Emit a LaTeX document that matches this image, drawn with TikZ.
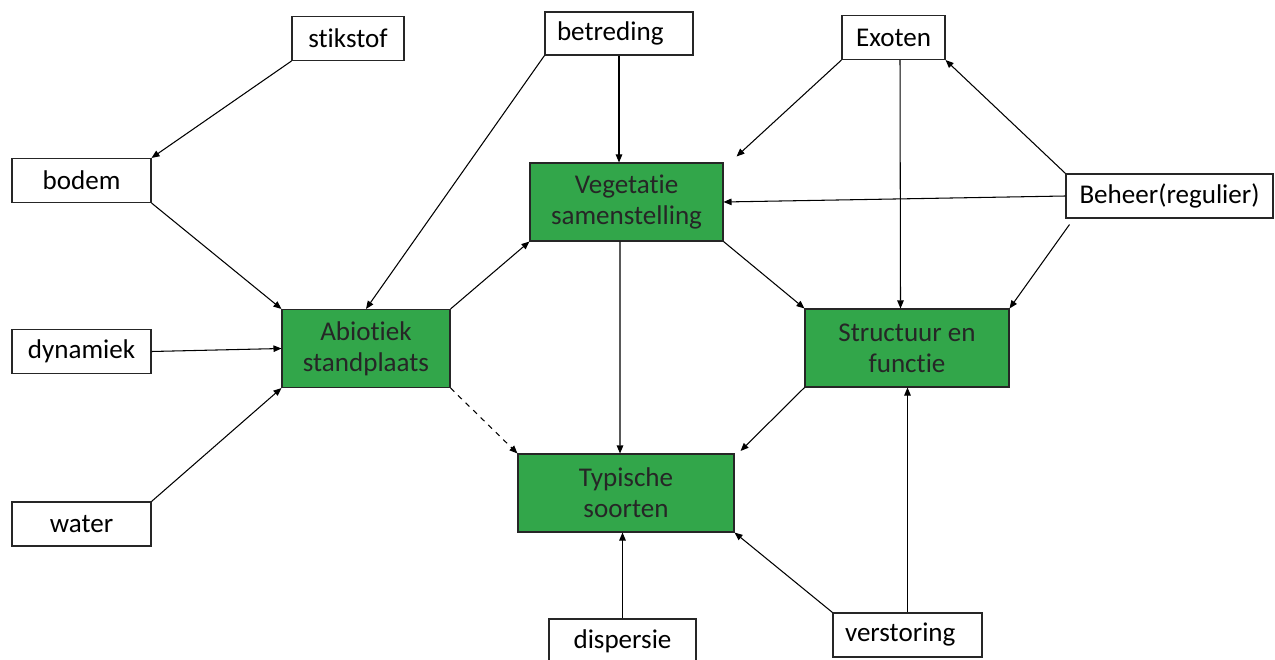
\documentclass[tikz,border=0pt]{standalone}
\usepackage{fontspec}
\setmainfont[Ligatures=NoCommon]{Carlito}
\usetikzlibrary{arrows.meta}
\definecolor{leafgreen}{RGB}{50,166,74}
\tikzset{
  factor/.style={draw=black!85,line width=0.6pt,fill=white,minimum height=0.88cm,inner sep=2pt,font=\fontsize{15.4}{17.6}\selectfont},
  core/.style={draw=black!85,line width=0.6pt,fill=leafgreen,minimum height=1.56cm,align=center,text=black!85,font=\fontsize{15.4}{17.6}\selectfont},
  link/.style={draw=black,line width=0.6pt,-{Triangle[length=1.6mm,width=1.3mm]}},
  weak/.style={link,dashed}
}

\begin{document}
\begin{tikzpicture}
  \useasboundingbox (0,0) rectangle (25.5,-13.2);

  \node[factor,minimum width=2.24cm] (stik) at (6.96,-0.77) {stikstof};
  \node[factor,minimum height=0.86cm,text width=2.48cm,inner xsep=0.24cm,align=left] (betr) at (12.38,-0.67) {betreding};
  \node[factor,minimum width=2.06cm] (exo) at (17.87,-0.75) {Exoten};
  \node[factor,minimum width=2.78cm] (bodem) at (1.63,-3.61) {bodem};
  \node[factor,minimum width=4.14cm] (beheer) at (23.39,-3.92) {Beheer(regulier)};
  \node[factor,minimum width=2.78cm] (dyn) at (1.63,-7.03) {dynamiek};
  \node[factor,minimum width=2.78cm] (water) at (1.63,-10.48) {water};
  \node[factor,minimum width=2.94cm] (disp) at (12.45,-12.82) {dispersie};
  \node[factor,text width=2.5cm,inner xsep=0.24cm,align=left] (verst) at (18.15,-12.7) {verstoring};

  \node[core,minimum width=3.86cm] (veg) at (12.53,-4.04) {Vegetatie\\samenstelling};
  \node[core,minimum width=3.36cm] (abio) at (7.32,-6.97) {Abiotiek\\standplaats};
  \node[core,minimum width=4.08cm] (struct) at (18.14,-6.96) {Structuur en\\functie};
  \node[core,minimum width=4.32cm] (typ) at (12.52,-9.86) {Typische\\soorten};

  \draw[link] (stik.south west) -- (bodem.north east);
  \draw[link] (bodem.south east) -- (abio.north west);
  \draw[link] (betr.south west) -- (abio.north);
  \draw[link] (betr.south) -- (betr.south |- veg.north);
  \draw[link] (exo.south west) -- ([shift={(0.26,0.12)}]veg.north east);
  \draw[link] ([xshift=0.13cm]exo.south) -- ([xshift=-0.13cm]struct.north);
  \draw[link] (beheer.north west) -- (exo.south east);
  \draw[link] (beheer.west) -- (veg.east);
  \draw[link] ([shift={(0.08,-0.12)}]beheer.south west) -- (struct.north east);
  \draw[link] (dyn.east) -- (abio.west);
  \draw[link] (water.north east) -- (abio.south west);
  \draw[link] (abio.north east) -- (veg.south west);
  \draw[weak] (abio.south east) -- (typ.north west);
  \draw[link] ([xshift=-0.13cm]veg.south) -- ([xshift=-0.12cm]typ.north);
  \draw[link] (veg.south east) -- (struct.north west);
  \draw[link] (struct.south west) -- ([shift={(0.12,0.05)}]typ.north east);
  \draw[link] (disp.north) -- (disp.north |- typ.south);
  \draw[link] (verst.north west) -- (typ.south east);
  \draw[link] (verst.north) -- (verst.north |- struct.south);
\end{tikzpicture}
\end{document}
